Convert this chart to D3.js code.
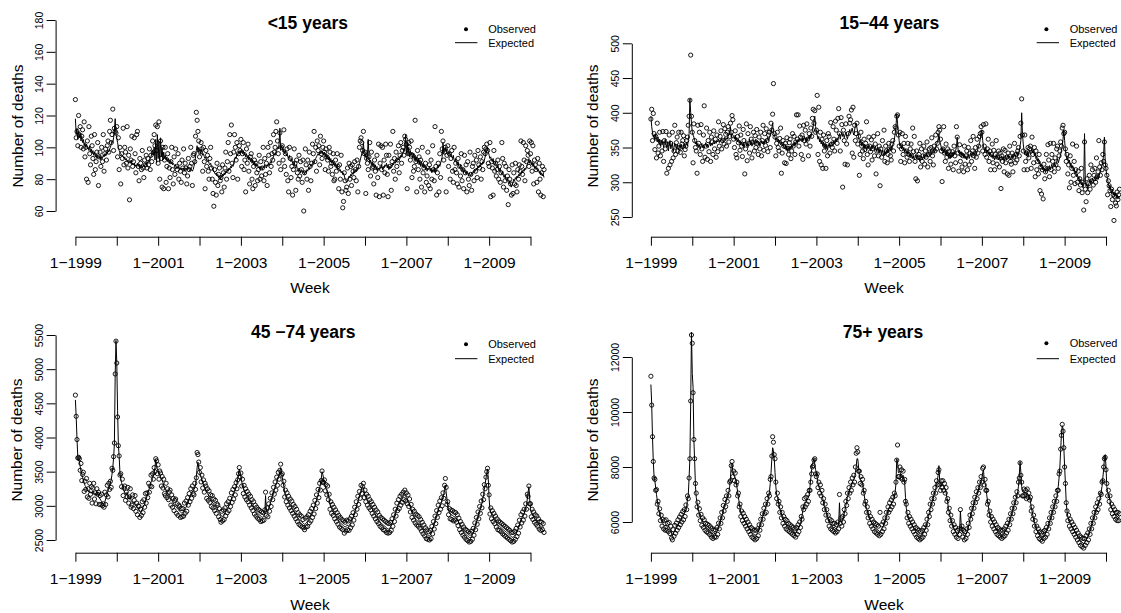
<!DOCTYPE html>
<html>
<head>
<meta charset="utf-8">
<script src="https://cdn.jsdelivr.net/npm/d3@7"></script>
<style>
  body { margin: 0; background: #fff; }
  svg { display: block; }
  text { font-family: "Liberation Sans", Arial, sans-serif; fill: #000; }
</style>
</head>
<body>
<div id="chart"></div>
<script>
// week index 0 = week 1 of 1999, one row per year (52 weeks), 2010 ends at week 18
const yearTicks = [0, 52, 104, 156, 208, 260, 312, 364, 416, 468, 520, 572];
const yearTickLabels = ["1\u22121999", "", "1\u22122001", "", "1\u22122003", "", "1\u22122005", "", "1\u22122007", "", "1\u22122009", ""];

const under15Ticks = [60, 80, 100, 120, 140, 160, 180];
const age15to44Ticks = [250, 300, 350, 400, 450, 500];
const age45to74Ticks = [2500, 3000, 3500, 4000, 4500, 5000, 5500];
const over75Ticks = [6000, 8000, 10000, 12000];

const under15Observed = [
  130,106,110,101,120,108,113,100,107,111, 99,116,94,100,80,104,78,113,96,89, 107,101,93,83,108,86,91,97,103,76, 94,97,88,100,91,108,85,96,99,92, 101,104,97,110,117,103,108,124,98,112, 110,109,
  113,94,106,86,100,77,96,93,112,89, 100,97,90,113,87,95,67,99,92,107, 88,91,106,96,84,108,110,88,79,93, 90,86,98,87,81,92,89,95,87,93, 89,99,86,95,91,104,97,108,101,114, 98,113,
  90,116,80,104,93,75,100,74,92,100, 78,88,96,74,87,81,91,100,86,77, 94,83,99,88,86,96,80,90,85,78, 92,87,99,84,90,87,77,82,93,86, 88,100,90,76,95,96,91,107,122,117, 110,104,
  94,97,103,99,85,100,91,74,98,88, 95,85,80,93,100,87,80,71,63,86, 78,70,90,76,83,87,79,81,72,89, 84,75,87,97,80,91,103,85,108,96, 114,90,81,97,108,100,92,103,80,96, 101,98,
  105,88,96,103,86,92,72,99,90,102, 85,77,94,96,80,74,88,92,76,90, 84,79,86,95,80,91,82,87,100,79, 93,83,90,76,100,95,84,103,88,96, 92,108,97,100,110,116,104,96,90,109, 86,100,
  101,92,111,88,96,83,99,79,72,100, 93,81,88,70,86,99,90,73,92,84, 80,95,82,91,86,78,92,60,84,99, 89,80,92,73,97,88,79,90,102,96, 110,91,100,85,104,98,101,89,107,96, 93,100,
  104,97,86,99,94,92,85,100,97,88, 90,83,96,79,80,92,85,96,88,74, 89,80,95,72,62,66,84,79,73,75, 87,71,90,80,88,76,89,85,81,91, 86,79,92,72,88,100,104,106,103,98, 110,96,
  97,71,93,90,86,94,103,82,97,87, 88,77,92,85,70,95,81,102,69,90, 101,86,100,70,92,84,102,95,83,69, 95,88,102,73,91,110,85,93,80,97, 88,92,101,84,95,103,90,98,100,95, 107,105,
  102,74,96,103,100,92,104,81,95,85, 88,117,91,72,98,86,94,80,92,75, 100,84,87,72,90,78,82,97,76,89, 74,92,80,101,86,79,113,88,70,84, 90,72,96,81,110,99,104,92,97,100, 72,95,
  101,88,96,80,93,98,85,78,100,86, 90,84,77,93,75,88,82,96,79,86, 74,95,84,89,72,91,80,76,97,83, 73,88,90,79,95,85,92,81,98,89, 87,94,80,91,86,97,100,96,99,102, 98,90,
  88,103,69,91,87,70,98,85,90,82, 86,92,80,88,78,84,103,93,75,90, 79,88,73,82,64,86,80,77,70,89, 71,84,77,90,76,72,86,80,89,85, 104,88,83,103,92,79,101,91,98,95, 88,104,
  96,103,85,101,77,92,89,86,78,93, 72,90,80,70,84,88,69,86
];
const under15Expected = [
  118,108,112,105,110,106,109,104,107,103, 105,101,103,100,102,99,100,98,101,97, 99,96,98,95,97,94,96,93,95,94, 93,95,92,94,93,95,94,96,95,97, 96,98,97,99,100,102,104,103,106,110, 118,108,
  106,103,100,98,97,96,95,95,94,93, 94,92,93,91,92,90,91,90,92,89, 90,89,90,88,89,88,90,88,89,87, 88,89,87,88,89,88,90,89,91,90, 92,91,93,94,96,98,95,100,92,105, 90,108,
  93,104,91,106,94,100,92,97,93,95, 92,94,91,93,90,92,90,91,89,90, 89,88,89,87,88,87,88,86,87,86, 87,86,87,85,86,87,86,88,87,86, 85,87,86,85,86,88,90,94,98,101, 97,100,
  98,96,99,97,95,96,94,93,94,92, 91,92,90,89,90,88,87,86,85,84, 83,84,82,83,81,82,80,82,81,83, 82,84,83,85,84,86,85,87,86,88, 87,89,88,90,92,94,93,96,95,97, 96,98,
  97,99,96,98,95,97,94,96,93,95, 92,94,91,93,90,92,89,91,88,90, 88,89,87,88,86,88,87,86,88,87, 89,88,87,89,88,90,89,91,90,92, 93,94,96,95,97,98,100,99,102,112, 98,101,
  100,97,99,96,98,95,96,94,93,95, 92,91,93,90,89,91,88,87,89,86, 85,87,86,84,86,85,84,85,83,85, 84,86,85,87,86,88,89,88,90,91, 90,92,93,94,95,96,95,97,96,98, 96,97,
  95,97,94,96,93,95,92,94,91,93, 90,92,89,91,88,90,87,89,86,87, 85,86,84,85,83,84,82,80,79,78, 79,80,82,81,83,82,84,83,85,84, 86,85,87,86,88,90,92,94,96,98, 103,96,
  94,96,92,95,105,94,90,92,89,91, 88,90,87,89,86,88,85,87,86,88, 87,89,86,88,87,89,88,90,87,89, 86,88,87,89,88,90,89,91,90,92, 91,93,92,94,93,95,94,96,97,99, 98,108,
  96,103,95,100,94,98,95,97,93,96, 92,95,91,94,90,93,89,92,88,91, 88,90,87,89,86,88,85,87,86,88, 85,87,84,86,85,87,84,86,85,88, 87,89,88,90,92,94,103,96,98,100, 97,99,
  98,96,97,95,96,94,93,95,92,91, 93,90,89,91,88,87,89,86,85,87, 84,86,85,83,85,84,82,84,83,82, 84,83,85,84,86,85,87,86,88,87, 89,88,90,89,91,90,92,94,96,98, 100,97,
  95,93,94,92,91,93,90,89,91,88, 87,89,86,85,87,84,83,85,82,81, 83,80,79,81,78,77,79,76,75,77, 78,80,79,81,80,82,81,83,82,84, 83,85,84,86,85,87,86,88,89,91, 93,90,
  92,89,91,88,90,87,88,86,87,85, 86,84,85,83,84,82,83,81
];

const age15to44Observed = [
  391,405,360,399,370,347,366,335,385,342, 352,372,338,357,345,373,330,360,348,373, 313,355,320,368,325,356,330,372,335,345, 382,340,357,365,345,372,350,343,372,355, 360,367,338,347,352,360,365,382,395,418, 483,395,
  372,328,384,360,350,345,313,382,356,372, 340,383,348,330,368,410,336,352,378,333, 360,344,372,330,365,358,340,374,348,362, 336,368,344,387,352,366,374,348,360,383, 355,377,369,352,372,380,358,366,385,372, 396,390,
  362,350,374,340,335,366,357,381,346,368, 352,337,376,360,312,348,384,331,370,356, 342,380,362,335,358,372,345,367,350,376, 356,340,365,348,372,338,360,382,346,370, 353,377,360,344,368,372,350,385,375,398, 442,370,
  365,338,356,372,350,345,363,378,313,342, 360,352,328,356,327,364,349,340,357,362, 334,345,370,352,366,340,358,397,362,397, 352,381,365,340,368,333,382,360,375,355, 384,362,338,370,352,378,366,392,405,385, 403,372,
  375,425,340,408,330,372,325,362,320,368, 345,352,320,360,338,370,366,342,386,355, 350,380,362,345,388,375,356,392,406,370, 345,393,383,293,375,360,326,384,355,325, 370,395,385,390,404,342,408,336,382,360, 370,385,
  355,366,310,340,372,352,345,334,362,347, 356,387,340,325,365,352,344,361,332,348, 366,338,355,312,345,370,338,352,295,348, 336,360,342,375,330,352,345,328,340,356, 348,338,332,355,360,345,372,380,378,395, 397,368,
  352,372,330,348,370,340,356,328,366,345, 336,356,340,330,348,355,338,378,344,366, 330,305,345,302,336,340,356,322,348,330, 338,352,326,345,336,358,322,340,348,330, 350,364,338,325,352,345,368,348,356,372, 380,375,
  362,345,301,348,380,342,330,355,336,348, 320,345,338,326,340,344,318,352,338,328, 380,365,342,316,354,330,340,322,338,315, 352,326,338,345,318,350,325,342,360,330, 345,366,338,320,350,336,362,342,352,366, 370,380,
  372,345,383,352,340,384,336,348,362,330, 345,318,340,355,328,346,318,340,360,326, 336,345,322,342,291,338,330,348,315,346, 328,336,312,342,310,352,330,326,342,315, 336,356,328,340,332,345,350,338,366,385, 420,368,
  345,318,368,330,342,318,350,335,348,352, 320,365,340,328,350,308,345,318,330,312, 340,288,322,283,318,276,326,305,315,340, 320,354,332,308,356,318,340,330,356,315, 335,325,348,352,320,338,345,358,352,378, 382,370,
  372,348,330,340,312,325,292,338,300,320, 355,310,330,298,318,352,300,316,288,305, 296,320,285,300,260,358,290,272,305,285, 298,310,290,325,302,318,296,310,320,300, 335,308,315,360,322,310,328,318,340,330, 358,325,
  320,310,282,302,295,288,265,290,275,282, 245,280,270,266,286,275,282,290
];
const age15to44Expected = [
  395,380,372,365,368,360,370,362,358,365, 356,362,352,360,355,358,350,356,362,354, 350,358,345,355,360,348,352,357,344,350, 356,352,348,355,350,346,353,349,355,351, 347,352,356,350,354,358,352,360,370,420, 400,385,
  372,368,365,360,355,358,352,356,350,354, 348,352,356,350,354,349,353,357,351,355, 350,354,358,352,356,353,357,360,355,359, 356,360,358,362,357,361,359,363,360,358, 362,365,360,364,362,366,368,372,380,365, 370,368,
  366,362,368,360,364,358,362,356,360,354, 358,352,357,350,355,360,352,357,350,356, 362,354,358,352,356,360,354,358,362,356, 360,354,358,352,356,360,355,359,354,358, 362,357,361,365,360,364,368,372,378,385, 372,368,
  365,360,364,358,362,356,360,354,358,352, 356,350,348,354,346,352,344,350,346,352, 348,354,350,356,352,358,354,360,356,362, 358,364,360,362,358,364,360,366,362,358, 364,360,366,362,368,364,370,374,380,388, 395,380,
  372,368,362,366,358,362,355,360,352,358, 350,356,348,354,346,352,356,350,354,358, 352,356,360,355,362,358,364,360,366,370, 362,368,372,366,370,364,368,372,366,362, 368,372,376,370,374,378,372,368,375,382, 385,378,
  372,365,360,356,362,352,358,350,355,348, 354,346,352,348,354,350,345,352,348,354, 350,346,352,348,344,350,346,342,348,344, 340,346,342,338,344,340,346,342,348,344, 350,346,352,348,354,358,362,370,380,398, 385,372,
  360,352,356,348,354,346,350,344,348,342, 346,340,344,338,342,336,340,334,338,332, 336,340,334,338,332,336,330,334,338,332, 336,340,334,338,342,336,340,344,338,342, 346,340,344,348,342,346,350,354,358,362, 370,360,
  355,350,345,350,342,348,340,346,338,344, 336,342,334,340,336,342,338,344,340,346, 350,365,348,342,346,340,344,338,342,336, 340,334,338,332,336,340,334,338,342,336, 340,344,338,342,346,340,344,348,352,356, 362,370,
  375,360,352,348,344,350,342,346,340,344, 338,342,336,340,334,338,332,336,340,334, 338,332,336,330,334,338,332,336,330,334, 338,332,336,340,334,338,332,336,340,334, 338,342,336,340,344,338,342,346,352,360, 400,370,
  355,345,340,346,338,344,336,342,346,340, 344,348,342,346,338,342,334,338,330,334, 326,330,322,326,318,322,316,320,314,318, 322,316,320,324,318,322,326,320,324,328, 322,326,330,334,328,332,336,340,346,352, 362,375,
  360,345,338,332,336,328,332,324,328,320, 324,316,320,312,316,308,312,304,308,300, 304,296,300,292,296,370,300,294,298,290, 296,300,304,298,302,306,300,304,308,302, 306,310,304,308,312,316,320,324,330,340, 365,330,
  318,310,304,298,292,296,288,284,290,282, 286,280,284,278,282,276,280,278
];

const age45to74Observed = [
  4620,4310,3970,3700,3710,3690,3520,3620,3370,3460, 3490,3210,3360,3240,3400,3130,3250,3110,3330,3170, 3280,3040,3260,3330,3100,3190,3030,3250,3170,3200, 3020,3150,3020,3170,3000,3030,2980,3200,3020,3160, 3300,3130,3330,3240,3360,3270,3550,3520,3720,3920, 4930,5410,
  5090,4300,3880,3730,3450,3470,3280,3390,3150,3260, 3290,3080,3200,3130,3270,3040,3130,3250,2980,3010, 3160,2960,3080,3150,2920,3040,2870,3000,2990,2830, 2950,2860,3060,2900,3090,2980,3180,3040,3190,3120, 3330,3200,3290,3450,3280,3470,3390,3560,3500,3690, 3660,3470,
  3600,3390,3510,3480,3290,3430,3260,3390,3180,3150, 3330,3120,3250,3090,3200,3230,3010,3160,2980,3110, 2930,3080,3100,2890,3030,2860,3010,2990,2830,2960, 2840,2960,2850,3040,2890,3070,2920,3120,3010,3180, 3060,3250,3110,3290,3180,3160,3330,3240,3410,3780, 3750,3640,
  3490,3560,3350,3450,3260,3380,3200,3330,3290,3110, 3250,3080,3220,3050,3160,2990,3150,2970,3100,2930, 3080,2890,3030,3010,2840,2960,2800,2760,2920,2780, 2940,2800,2970,2850,3030,2900,3060,2930,3110,2990, 3190,3050,3240,3100,3280,3160,3340,3250,3380,3470, 3560,3420,
  3480,3290,3390,3180,3300,3130,3250,3090,3210,3060, 3170,3010,3140,2970,3090,2930,3060,2880,3010,2850, 2980,2820,2950,2800,2930,2770,2910,2780,2900,2790, 2940,3200,2860,2970,2840,3030,2920,3110,2990,3190, 3090,3270,3170,3350,3230,3420,3300,3490,3390,3520, 3610,3450,
  3470,3300,3360,3130,3230,3060,3190,3010,3140,2970, 3100,2930,3070,2890,3020,2850,2990,2810,2950,2770, 2900,2730,2870,2710,2850,2690,2800,2680,2650,2820, 2690,2840,2700,2870,2750,2920,2780,2960,2830,3010, 2880,3080,2960,3160,3040,3240,3120,3330,3230,3370, 3510,3350,
  3340,3380,3220,3310,3160,3290,3090,3170,2950,3060, 2890,3020,2860,2980,2810,2940,2770,2900,2730,2860, 2690,2830,2670,2800,2650,2780,2600,2760,2630,2790, 2650,2780,2640,2810,2680,2850,2720,2900,2790,2980, 2870,3060,2950,3140,3020,3210,3110,3300,3180,3280, 3330,3120,
  3230,3060,3170,3010,3140,2970,3090,2940,3060,2890, 3020,2850,2980,2810,2940,2770,2910,2740,2860,2700, 2830,2680,2810,2650,2790,2640,2770,2610,2750,2600, 2740,2610,2760,2640,2810,2700,2870,2770,2950,2850, 3040,2930,3090,2960,3140,3010,3170,3050,3200,3090, 3230,3070,
  3190,3030,3160,2990,3100,2910,3020,2830,2950,2790, 2920,2750,2880,2720,2860,2700,2840,2670,2800,2630, 2760,2590,2720,2560,2680,2520,2650,2510,2620,2500, 2640,2520,2700,2590,2770,2660,2850,2740,2930,2830, 3010,2900,3070,2950,3120,3000,3190,3110,3300,3400, 3270,3020,
  3060,2870,2960,2810,2940,2800,2930,2780,2910,2790, 2900,2760,2870,2710,2820,2650,2770,2610,2730,2570, 2690,2540,2660,2510,2640,2490,2620,2470,2600,2480, 2630,2510,2670,2570,2750,2650,2830,2730,2910,2810, 2990,2890,3070,2970,3170,3090,3310,3250,3420,3500, 3550,3300,
  3160,2880,2970,2810,2930,2770,2890,2740,2850,2690, 2810,2650,2780,2640,2760,2620,2740,2590,2720,2570, 2700,2550,2680,2530,2660,2510,2640,2490,2610,2470, 2610,2480,2630,2510,2670,2550,2720,2600,2790,2690, 2870,2750,2910,2790,2950,2850,3030,2950,3170,3140, 3290,3030,
  3030,2840,2950,2800,2910,2760,2870,2730,2850,2700, 2810,2660,2770,2640,2760,2650,2740,2610
];
const age45to74Expected = [
  4550,4300,3980,3720,3700,3640,3580,3500,3460,3420, 3380,3340,3300,3280,3250,3240,3220,3200,3210,3190, 3200,3180,3220,3200,3170,3180,3150,3160,3200,3140, 3120,3100,3080,3060,3040,3020,3030,3060,3100,3140, 3180,3220,3260,3300,3340,3380,3460,3560,3700,3900, 4900,5420,
  5100,4400,3900,3720,3480,3400,3340,3300,3260,3220, 3200,3180,3160,3200,3150,3120,3100,3140,3080,3060, 3050,3040,3060,3020,3000,2990,2980,2960,2940,2920, 2900,2920,2950,2980,3000,3020,3060,3100,3140,3180, 3220,3260,3300,3340,3360,3400,3440,3480,3560,3680, 3600,3540,
  3520,3480,3460,3420,3400,3380,3340,3300,3260,3240, 3220,3200,3180,3160,3140,3120,3100,3080,3060,3040, 3020,3000,2990,2980,2960,2950,2940,2920,2910,2900, 2890,2900,2920,2940,2960,2980,3000,3030,3060,3100, 3140,3160,3180,3200,3220,3240,3260,3300,3420,3560, 3640,3560,
  3500,3460,3420,3380,3340,3300,3280,3260,3220,3200, 3180,3160,3140,3120,3100,3080,3060,3040,3020,3000, 2990,2980,2960,2940,2920,2900,2880,2860,2850,2840, 2860,2880,2900,2920,2940,2960,2980,3000,3020,3060, 3100,3140,3160,3180,3200,3240,3280,3320,3400,3480, 3540,3480,
  3420,3360,3300,3260,3220,3200,3180,3160,3140,3120, 3100,3080,3060,3040,3020,3000,2980,2960,2940,2920, 2900,2890,2880,2870,2860,2850,2840,2830,2840,2860, 2880,3150,2920,2900,2920,2960,3000,3040,3080,3120, 3160,3200,3240,3280,3300,3340,3380,3420,3460,3500, 3560,3500,
  3420,3350,3280,3200,3150,3120,3100,3080,3060,3040, 3020,3000,2980,2960,2940,2920,2900,2880,2860,2840, 2820,2800,2790,2780,2770,2760,2750,2740,2730,2740, 2750,2760,2780,2800,2820,2840,2860,2880,2900,2930, 2960,3000,3040,3080,3120,3160,3200,3260,3320,3400, 3500,3460,
  3400,3320,3280,3250,3230,3200,3160,3100,3020,2980, 2960,2940,2920,2900,2880,2860,2840,2820,2800,2780, 2760,2750,2740,2730,2720,2710,2700,2690,2700,2710, 2720,2700,2710,2730,2750,2770,2800,2830,2860,2900, 2940,2980,3020,3060,3100,3140,3180,3220,3250,3280, 3260,3200,
  3150,3120,3100,3080,3060,3040,3020,3000,2980,2960, 2940,2920,2900,2880,2860,2840,2820,2800,2780,2760, 2750,2740,2730,2720,2710,2700,2690,2680,2670,2660, 2660,2670,2690,2710,2740,2770,2800,2840,2880,2920, 2960,3000,3020,3040,3060,3080,3100,3120,3140,3150, 3160,3140,
  3120,3100,3080,3060,3020,2980,2940,2900,2880,2860, 2840,2820,2800,2790,2780,2770,2760,2740,2720,2700, 2680,2660,2640,2620,2600,2590,2580,2570,2560,2560, 2570,2590,2620,2660,2700,2740,2780,2820,2860,2900, 2940,2980,3000,3020,3050,3080,3120,3180,3240,3300, 3200,3100,
  3000,2940,2900,2880,2880,2860,2860,2850,2840,2840, 2830,2820,2800,2780,2750,2720,2700,2680,2660,2640, 2620,2600,2590,2580,2570,2560,2550,2540,2530,2540, 2560,2580,2600,2640,2680,2720,2760,2800,2840,2880, 2920,2960,3000,3040,3100,3160,3240,3320,3400,3480, 3540,3380,
  3100,2950,2900,2880,2860,2840,2820,2800,2780,2760, 2740,2720,2710,2700,2690,2680,2670,2660,2650,2640, 2630,2620,2610,2600,2590,2580,2570,2560,2550,2540, 2540,2550,2560,2580,2600,2620,2650,2680,2720,2760, 2800,2820,2840,2860,2880,2920,2960,3020,3100,3200, 3280,3100,
  2960,2900,2880,2860,2840,2820,2800,2790,2780,2760, 2740,2720,2710,2700,2690,2700,2690,2680
];

const over75Observed = [
  11300,10250,9100,8200,7600,7550,7150,7180,6650,6750, 6300,6480,6050,6250,5850,6100,5750,6050,5700,6080, 5700,5950,5650,5980,5580,5850,5420,5350,5720,5480, 5880,5590,5960,5700,6080,5800,6180,5900,6280,6000, 6380,6080,6450,6200,6620,6450,6950,6850,7600,8300, 10400,12800,
  12500,10700,9000,8300,7400,7050,6550,6720,6250,6480, 6050,6280,5880,6150,5800,6080,5700,5950,5640,5920, 5600,5880,5540,5820,5450,5760,5400,5700,5450,5720, 5450,5800,5550,5960,5750,6150,5950,6350,6150,6600, 6400,6820,6560,6950,6750,7150,6950,7450,7500,8050, 8200,7650,
  7850,7500,7780,7350,7450,6950,7050,6550,6650,6200, 6400,6050,6320,5950,6200,5850,6100,5750,6000,5650, 5900,5550,5800,5450,5750,5400,5700,5350,5700,5400, 5750,5500,5900,5700,6100,5900,6300,6100,6500,6300, 6650,6350,6850,6650,7050,6950,7550,7650,8400,9100, 8900,8450,
  8300,7450,6850,7050,6650,6750,6350,6550,6150,6350, 5950,6200,5850,6100,5750,6050,5700,5950,5650,5900, 5600,5850,5550,5800,5500,5750,5450,5800,5550,5900, 5650,6000,5800,6200,6100,6550,6450,6850,6550,6900, 6650,7000,6750,7150,7150,7450,7750,8000,8050,8250, 8300,7750,
  7650,7750,7250,7450,7050,7350,6950,7150,6700,6850, 6450,6650,6250,6450,6050,6250,5850,6100,5750,6050, 5700,5950,5650,5950,5600,5900,5650,6000,5750,7000, 5950,6150,5850,6200,6000,6450,6300,6750,6600,7050, 6850,7250,7050,7450,7150,7600,7350,7700,7450,8000, 8500,8700,
  8550,7850,7850,7400,7650,7350,7550,7050,7150,6650, 6750,6350,6550,6150,6350,5950,6200,5850,6100,5750, 6000,5650,5950,5600,5900,5550,5850,5500,6350,5550, 5900,5650,6000,5750,6150,5950,6350,6150,6550,6350, 6700,6450,6800,6550,6900,6650,7050,6950,7450,8250, 8800,7650,
  7650,8000,7600,7900,7550,7850,7450,7550,6750,6650, 6150,6350,5950,6200,5850,6100,5750,6000,5650,5900, 5550,5800,5450,5750,5400,5700,5350,5650,5400,5700, 5450,5800,5550,5900,5700,6100,5900,6350,6200,6650, 6450,6850,6650,7050,6850,7250,7050,7500,7350,7800, 7900,7350,
  7150,7500,7250,7500,7150,7400,7050,7250,6750,6850, 6350,6500,6050,6250,5850,6050,5650,5900,5550,5800, 5450,5700,5400,5750,5550,6450,5750,5850,5450,5700, 5350,5650,5400,5750,5550,5950,5800,6250,6100,6500, 6300,6700,6500,6900,6700,7100,6850,7250,7050,7450, 7250,7650,
  7450,7950,8000,7350,7550,7150,7150,6650,6750,6250, 6400,6000,6200,5850,6100,5750,6000,5650,5900,5550, 5800,5500,5750,5450,5700,5400,5700,5450,5750,5500, 5850,5600,5950,5700,6100,5900,6300,6100,6500,6300, 6700,6500,6900,6700,7100,6950,7450,7600,8150,7700, 7450,6950,
  6950,7200,6950,7150,6850,7200,6900,7050,6800,6900, 6400,6550,6100,6250,5850,6050,5650,5850,5500,5750, 5400,5650,5350,5600,5300,5650,5400,5700,5450,5800, 5550,5950,5750,6150,5950,6350,6150,6550,6350,6750, 6550,6950,6750,7150,7150,7750,7850,8650,9150,9550, 9300,8700,
  8000,7400,6700,6400,6050,6250,5850,6100,5750,6000, 5650,5900,5550,5800,5450,5700,5350,5600,5250,5500, 5150,5450,5100,5400,5050,5400,5150,5500,5250,5600, 5350,5750,5550,5950,5750,6150,5950,6350,6150,6550, 6350,6700,6450,6850,6650,7050,7000,7450,7500,8000, 8300,8350,
  7900,7400,6950,7150,6750,6950,6450,6650,6300,6550, 6200,6450,6100,6350,6050,6350,6050,6300
];
const over75Expected = [
  11000,10300,9100,8200,7650,7500,7250,7000,6800,6600, 6450,6300,6200,6100,6000,5950,5900,5880,5850,5900, 5850,5800,5850,5800,5750,5700,5600,5500,5550,5650, 5700,5750,5800,5850,5900,5950,6000,6050,6100,6150, 6200,6250,6300,6350,6450,6600,6800,7000,7600,8300, 10300,12900,
  11400,10900,9000,8200,7300,6900,6700,6550,6400,6300, 6200,6100,6050,6000,5950,5900,5850,5800,5800,5750, 5750,5700,5700,5650,5600,5600,5550,5550,5600,5550, 5600,5650,5700,5800,5900,6000,6100,6200,6300,6450, 6550,6650,6700,6800,6900,7000,7100,7300,7600,8100, 8150,7800,
  7700,7650,7600,7500,7300,7100,6900,6700,6500,6350, 6250,6200,6150,6100,6050,6000,5950,5900,5850,5800, 5750,5700,5650,5600,5600,5550,5550,5500,5550,5550, 5600,5650,5750,5850,5950,6050,6150,6250,6350,6450, 6500,6600,6700,6800,6900,7100,7400,7800,8300,8700, 8600,8300,
  7800,7300,7000,6900,6800,6600,6500,6400,6300,6200, 6100,6050,6000,5950,5900,5900,5850,5800,5800,5750, 5750,5700,5700,5650,5650,5600,5600,5650,5700,5750, 5800,5850,5950,6050,6250,6400,6600,6700,6700,6750, 6800,6850,6900,7000,7300,7600,7900,8100,8200,8300, 8100,7900,
  7800,7600,7400,7300,7200,7150,7100,7000,6850,6700, 6600,6500,6400,6300,6200,6100,6000,5950,5900,5900, 5850,5800,5800,5800,5750,5750,5800,5850,5900,6700, 6100,6000,6000,6050,6150,6300,6450,6600,6750,6900, 7000,7100,7200,7300,7300,7450,7500,7550,7600,7800, 8000,8300,
  8300,8000,7700,7550,7500,7500,7400,7200,7000,6800, 6600,6500,6400,6300,6200,6100,6050,6000,5950,5900, 5850,5800,5800,5750,5750,5700,5700,5650,5650,5700, 5750,5800,5850,5900,6000,6100,6200,6300,6400,6500, 6550,6600,6650,6700,6750,6800,6900,7100,7400,8300, 8200,7800,
  7800,7850,7700,7750,7650,7700,7550,7400,6900,6500, 6300,6200,6100,6050,6000,5950,5900,5850,5800,5750, 5700,5650,5600,5600,5550,5550,5500,5500,5550,5550, 5600,5650,5700,5750,5850,5950,6050,6200,6350,6500, 6600,6700,6800,6900,7000,7100,7200,7350,7500,7700, 8050,7500,
  7300,7350,7400,7350,7300,7250,7200,7100,6900,6700, 6500,6350,6200,6100,6000,5900,5800,5750,5700,5650, 5600,5550,5550,5600,5700,6400,5900,5700,5600,5550, 5500,5500,5550,5600,5700,5800,5950,6100,6250,6350, 6450,6550,6650,6750,6850,6950,7000,7100,7200,7300, 7400,7500,
  7600,7800,7900,7500,7400,7300,7000,6800,6600,6400, 6250,6150,6050,6000,5950,5900,5850,5800,5750,5700, 5650,5650,5600,5600,5550,5550,5550,5600,5600,5650, 5700,5750,5800,5850,5950,6050,6150,6250,6350,6450, 6550,6650,6750,6850,6950,7100,7300,7700,8200,7800, 7300,7100,
  7100,7050,7100,7050,7000,7050,7000,6950,6900,6750, 6550,6400,6250,6100,6000,5900,5800,5700,5650,5600, 5550,5500,5500,5450,5450,5500,5500,5550,5600,5650, 5700,5800,5900,6000,6100,6200,6300,6400,6500,6600, 6700,6800,6900,7000,7300,7600,8000,8600,9200,9500, 9400,8700,
  8000,7400,6700,6400,6200,6100,6000,5950,5900,5850, 5800,5750,5700,5650,5600,5550,5500,5450,5400,5350, 5300,5300,5250,5250,5200,5250,5300,5350,5400,5450, 5500,5600,5700,5800,5900,6000,6100,6200,6300,6400, 6500,6550,6600,6700,6800,6900,7100,7300,7600,7900, 8300,8450,
  8000,7300,7100,7000,6900,6800,6600,6500,6450,6400, 6350,6300,6250,6250,6200,6200,6150,6200
];

// panel geometry (pixels)
const panels = [
  { title: "<15 years", obs: under15Observed, exp: under15Expected, ticks: under15Ticks,
    yDomain: [60, 180], yRange: [211, 20], axisX: 55.6, xRange: [75.4, 530.5], xAxisY: 236.7,
    titleX: 307.8, titleY: 28.5, tickLabelY: 268, xlabX: 310, xlabY: 293, ylabX: 23, ylabY: 126,
    leg: { dotX: 466, lineX: [455, 477.4], textX: 488.2, y1: 29.3, y2: 42.7 } },
  { title: "15\u221244 years", obs: age15to44Observed, exp: age15to44Expected, ticks: age15to44Ticks,
    yDomain: [250, 500], yRange: [217, 43.3], axisX: 631.8, xRange: [650.9, 1106], xAxisY: 236.7,
    titleX: 889.3, titleY: 28.5, tickLabelY: 268, xlabX: 884, xlabY: 293, ylabX: 597.7, ylabY: 126,
    leg: { dotX: 1046.4, lineX: [1036.7, 1059], textX: 1069.7, y1: 29.3, y2: 42.7 } },
  { title: "45 \u221274 years", obs: age45to74Observed, exp: age45to74Expected, ticks: age45to74Ticks,
    yDomain: [2500, 5500], yRange: [540, 335], axisX: 55.6, xRange: [75.4, 530.5], xAxisY: 552.7,
    titleX: 303.3, titleY: 337.7, tickLabelY: 584, xlabX: 310, xlabY: 610, ylabX: 21.5, ylabY: 440,
    leg: { dotX: 466, lineX: [455, 477.4], textX: 488.2, y1: 344.3, y2: 358.7 } },
  { title: "75+ years", obs: over75Observed, exp: over75Expected, ticks: over75Ticks,
    yDomain: [6000, 12000], yRange: [522, 357], axisX: 631.8, xRange: [650.9, 1106], xAxisY: 552.7,
    titleX: 883, titleY: 337.7, tickLabelY: 584, xlabX: 884, xlabY: 610, ylabX: 597.7, ylabY: 440,
    leg: { dotX: 1046.4, lineX: [1036.7, 1059], textX: 1069.7, y1: 343.3, y2: 358.7 } }
];

const svg = d3.select("#chart").append("svg")
    .attr("width", 1121)
    .attr("height", 613);

svg.append("rect").attr("width", 1121).attr("height", 613).attr("fill", "#fff");

panels.forEach(p => {
    const x = d3.scaleLinear().domain([yearTicks[0], yearTicks[yearTicks.length - 1]]).range(p.xRange);
    const y = d3.scaleLinear().domain(p.yDomain).range(p.yRange);
    const g = svg.append("g");
    const n = Math.min(p.obs.length, p.exp.length);
    const weeks = d3.range(n);

    // expected line
    g.append("path")
        .datum(weeks)
        .attr("fill", "none")
        .attr("stroke", "#000")
        .attr("stroke-width", 1)
        .attr("d", d3.line().x(i => x(i)).y(i => y(p.exp[i])));

    // observed open circles
    g.append("g").selectAll("circle")
        .data(weeks)
        .join("circle")
        .attr("cx", i => x(i))
        .attr("cy", i => y(p.obs[i]))
        .attr("r", 2.1)
        .attr("fill", "none")
        .attr("stroke", "#000")
        .attr("stroke-width", 0.9);

    // x axis
    const xAxis = d3.axisBottom(x)
        .tickValues(yearTicks)
        .tickFormat((d, i) => yearTickLabels[i])
        .tickSize(9)
        .tickSizeOuter(0);
    const gx = g.append("g").attr("transform", `translate(0,${p.xAxisY})`).call(xAxis);
    gx.selectAll("path, line").attr("stroke", "#000").attr("stroke-width", 1);
    gx.selectAll("text")
        .attr("y", p.tickLabelY - p.xAxisY)
        .attr("dy", 0)
        .style("font-family", '"Liberation Sans", Arial, sans-serif')
        .style("font-size", "15.5px")
        .attr("fill", "#000");

    // y axis
    const yAxis = d3.axisLeft(y)
        .tickValues(p.ticks)
        .tickFormat(d3.format("d"))
        .tickSize(9)
        .tickSizeOuter(0);
    const gy = g.append("g").attr("transform", `translate(${p.axisX},0)`).call(yAxis);
    gy.selectAll("path, line").attr("stroke", "#000").attr("stroke-width", 1);
    gy.selectAll("text")
        .attr("x", 0)
        .attr("y", 0)
        .attr("dy", 0)
        .attr("transform", "translate(-12.6,0) rotate(-90)")
        .attr("text-anchor", "middle")
        .style("font-family", '"Liberation Sans", Arial, sans-serif')
        .style("font-size", "10.5px")
        .attr("fill", "#000");

    // title and axis titles
    g.append("text")
        .attr("x", p.titleX).attr("y", p.titleY)
        .attr("text-anchor", "middle")
        .style("font-size", "17.5px")
        .style("font-weight", "bold")
        .text(p.title);

    g.append("text")
        .attr("x", p.xlabX).attr("y", p.xlabY)
        .attr("text-anchor", "middle")
        .style("font-size", "15.5px")
        .text("Week");

    g.append("text")
        .attr("transform", `translate(${p.ylabX},${p.ylabY}) rotate(-90)`)
        .attr("text-anchor", "middle")
        .style("font-size", "15.5px")
        .text("Number of deaths");

    // legend
    g.append("circle")
        .attr("cx", p.leg.dotX).attr("cy", p.leg.y1)
        .attr("r", 2).attr("fill", "#000");
    g.append("line")
        .attr("x1", p.leg.lineX[0]).attr("x2", p.leg.lineX[1])
        .attr("y1", p.leg.y2).attr("y2", p.leg.y2)
        .attr("stroke", "#000").attr("stroke-width", 1);
    g.append("text")
        .attr("x", p.leg.textX).attr("y", p.leg.y1 + 4)
        .style("font-size", "11px")
        .text("Observed");
    g.append("text")
        .attr("x", p.leg.textX).attr("y", p.leg.y2 + 4)
        .style("font-size", "11px")
        .text("Expected");
});
</script>
</body>
</html>
